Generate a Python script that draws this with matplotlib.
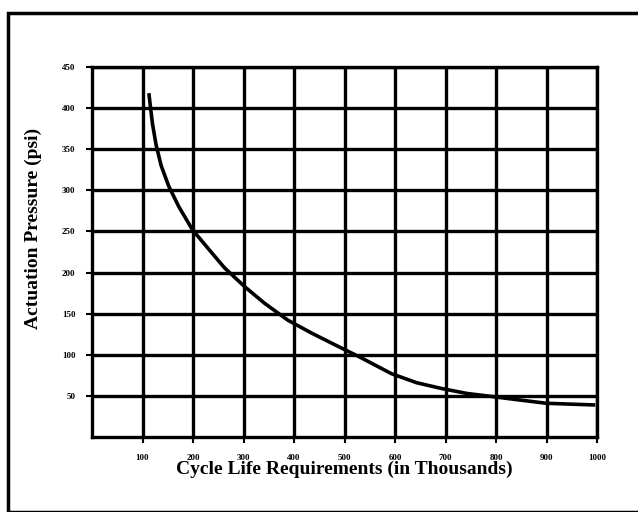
import matplotlib
matplotlib.use("Agg")
import matplotlib.pyplot as plt
from matplotlib.patches import Rectangle

# Data (cycles in thousands, pressure in psi)
cycles = [113, 116, 120, 127, 137, 152, 172, 199, 229, 262, 302, 341, 388,
          436, 488, 531, 593, 643, 692, 742, 795, 847, 900, 993]
pressure = [416, 400, 380, 355, 330, 305, 280, 252, 230, 206, 183, 163, 142,
            126, 110, 97, 77, 66, 59, 53, 49, 45, 41, 39]
x_ticks = [100, 200, 300, 400, 500, 600, 700, 800, 900, 1000]
y_ticks = [50, 100, 150, 200, 250, 300, 350, 400, 450]

plt.rcParams['font.family'] = ['Liberation Serif', 'DejaVu Serif']

fig = plt.figure(figsize=(6.38, 5.12), dpi=100)
fig.patches.append(Rectangle((8/638, 0), 1, 1 - 13/512, transform=fig.transFigure,
                             fill=False, edgecolor='black', linewidth=2.5))

ax = fig.add_axes([92/638, 1 - 437/512, (597 - 92)/638, (437 - 67)/512])
ax.plot(cycles, pressure, color='black', linewidth=2.6, solid_joinstyle='round')
ax.set_xlim(0, 1000)
ax.set_ylim(0, 450)
ax.set_xticks(x_ticks)
ax.set_yticks(y_ticks)
ax.set_xticklabels([str(v) for v in x_ticks], fontsize=6.5, fontweight='bold')
ax.set_yticklabels([str(v) for v in y_ticks], fontsize=6.5, fontweight='bold')
ax.grid(True, color='black', linewidth=2.4)
for s in ax.spines.values():
    s.set_linewidth(2.4)
ax.tick_params(length=4, width=1.5, pad=8)
ax.set_xlabel('Cycle Life Requirements (in Thousands)', fontsize=14,
              fontweight='bold', labelpad=-1)
ax.set_ylabel('Actuation Pressure (psi)', fontsize=14, fontweight='bold')
ax.yaxis.set_label_coords(-0.099, 0.565)

fig.savefig('out.png', dpi=100)
